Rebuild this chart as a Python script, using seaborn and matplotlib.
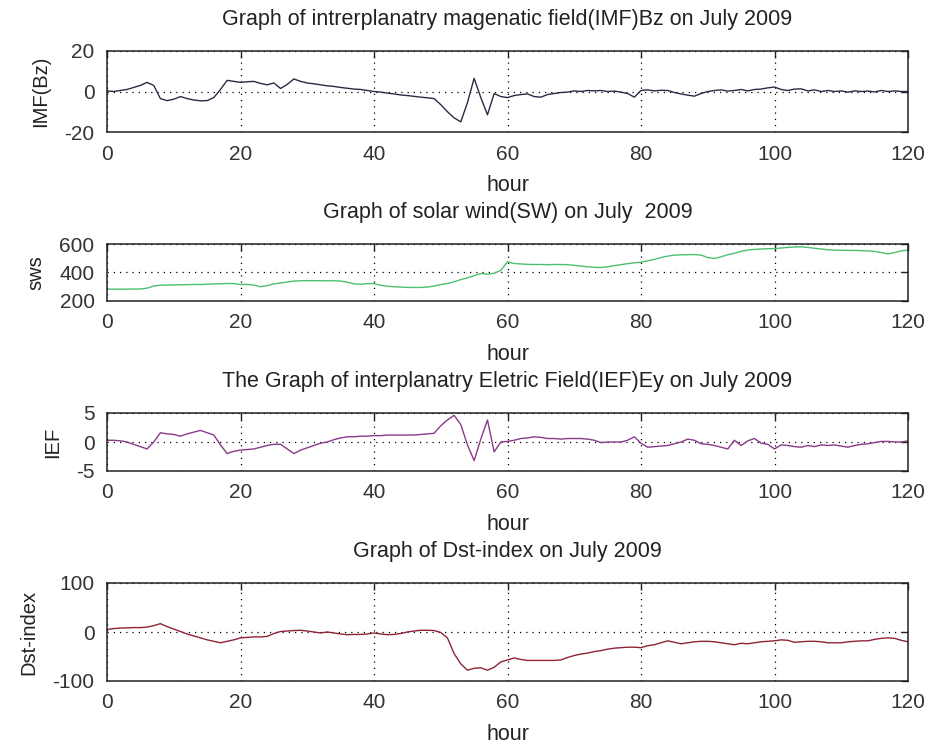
import numpy as np
import pandas as pd
import matplotlib
matplotlib.use("Agg")
import matplotlib.pyplot as plt
import seaborn as sns

hours = list(range(0, 121))

bz = [0.3, 0, 0.5, 1, 2, 3, 4.5, 3, -3.5, -4.5,
      -3.8, -2.5, -3.5, -4.2, -4.6, -4.5, -3, 1, 5.5, 5,
      4.5, 4.8, 5, 4, 3.3, 4.2, 1.5, 3.5, 6.2, 5,
      4.2, 3.8, 3.3, 2.8, 2.5, 2, 1.6, 1.2, 1, 0.5,
      0, -0.3, -0.8, -1.2, -1.7, -2, -2.4, -2.8, -3.1, -3.5,
      -6.5, -10, -13, -15, -5.5, 6.5, -3, -11.5, -1, -2.5,
      -3, -2, -1.5, -1.2, -2.5, -2.8, -1.5, -1, -0.5, -0.3,
      0.3, 0, 0.5, 0.3, 0.5, 0, 0.2, -0.3, -1, -2.8,
      0.5, 0.8, 0.3, 0.6, 0.5, -0.5, -1.2, -1.8, -2.3, -1,
      0, 0.5, 0.8, 0.2, 0.5, 1, 0.3, 1, 1.2, 1.8,
      2.2, 1, 0.5, 1.2, 1.3, 0.3, 0.8, 0, 0.5, 0,
      0.3, -0.3, 0.3, 0, 0.2, -0.2, 0.5, 0, 0.3, 0, 0]

sws = [283, 283, 283, 283, 284, 284, 290, 305, 311, 312,
       313, 314, 315, 316, 316, 318, 320, 321, 323, 322,
       316, 316, 312, 300, 308, 320, 326, 333, 340, 342,
       343, 343, 342, 342, 342, 340, 332, 320, 318, 322,
       322, 310, 304, 300, 298, 295, 295, 295, 298, 305,
       315, 323, 335, 350, 362, 378, 393, 388, 395, 415,
       475, 463, 460, 457, 456, 456, 455, 456, 456, 455,
       450, 445, 440, 436, 435, 440, 448, 455, 462, 468,
       472, 482, 492, 505, 515, 522, 524, 525, 526, 522,
       505, 498, 510, 525, 535, 548, 558, 562, 565, 567,
       568, 572, 576, 579, 580, 576, 570, 565, 560, 557,
       556, 555, 555, 553, 552, 548, 540, 530, 540, 552, 558]

ief = [0.3, 0.3, 0.2, 0, -0.4, -0.8, -1.2, 0, 1.6, 1.4,
       1.3, 1.0, 1.4, 1.7, 2.0, 1.6, 1.2, -0.5, -2.0, -1.6,
       -1.4, -1.3, -1.2, -0.9, -0.6, -0.4, -0.4, -1.2, -2.0, -1.4,
       -1.0, -0.6, -0.2, 0, 0.4, 0.7, 0.9, 0.9, 1.0, 1.0,
       1.1, 1.1, 1.2, 1.2, 1.2, 1.2, 1.2, 1.3, 1.4, 1.5,
       2.8, 3.8, 4.6, 3.0, -0.5, -3.2, 0.5, 3.8, -1.7, 0,
       0.1, 0.3, 0.6, 0.7, 0.9, 0.8, 0.6, 0.6, 0.5, 0.6,
       0.6, 0.6, 0.5, 0.3, -0.1, 0, 0, 0, 0.3, 0.9,
       -0.2, -0.9, -0.8, -0.7, -0.6, -0.3, 0, 0.5, 0.3, -0.3,
       -0.4, -0.6, -0.9, -1.2, 0.3, -0.6, 0.2, 0.6, -0.2, -0.4,
       -1.2, -0.5, -0.6, -0.8, -0.9, -0.6, -0.8, -0.5, -0.6, -0.5,
       -0.7, -0.9, -0.6, -0.4, -0.3, -0.1, 0.1, 0.1, 0, 0, 0.2]

dst = [5, 7, 8, 8.5, 9, 9, 10, 13, 17, 11,
       6, 1, -4, -8, -12, -16, -19, -22, -19, -16,
       -12, -11, -10, -10, -9, -3, 1, 2, 3, 3.5,
       2, 0, -2, 0, -2, -4, -5.5, -5, -5, -4,
       -2, -4, -5.5, -5, -3, 0, 2, 3.5, 3.5, 3,
       -1, -12, -44, -65, -78, -74, -73, -78, -72, -61,
       -57, -53, -56, -58, -58, -58, -58, -58, -57, -52,
       -48, -45, -43, -40, -38, -35, -33, -32, -31, -31,
       -32, -28, -26, -22, -18, -21, -24, -22, -20, -19,
       -19, -20, -22, -24, -26, -23, -24, -22, -20, -19,
       -18, -16, -17, -21, -20, -19, -19, -20, -22, -22,
       -22, -20, -19, -18, -18, -15, -13, -12, -13, -17, -20]

titles = ["Graph of intrerplanatry magenatic field(IMF)Bz on July 2009",
          "Graph of solar wind(SW) on July  2009",
          "The Graph of interplanatry Eletric Field(IEF)Ey on July 2009",
          "Graph of Dst-index on July 2009"]
ylabels = ["IMF(Bz)", "sws", "IEF", "Dst-index"]
yticks_list = [[-20, 0, 20], [200, 400, 600], [-5, 0, 5], [-100, 0, 100]]
xticks = [0, 20, 40, 60, 80, 100, 120]
series = [bz, sws, ief, dst]
colors = ["#2b2b45", "#4cc070", "#8a3a8a", "#8e2436"]

sns.set_style("white")
plt.rcParams['font.family'] = ['Liberation Sans', 'DejaVu Sans']

fig = plt.figure(figsize=(9.3, 7.45), dpi=100)
W, H = 930.0, 745.0
boxes = [(51, 132), (244, 301), (413, 471), (583, 681)]
left, right = 107, 908

for i, (top, bot) in enumerate(boxes):
    ax = fig.add_axes([left / W, (H - bot) / H, (right - left) / W, (bot - top) / H])
    df = pd.DataFrame({"hour": hours, "val": series[i]})
    sns.lineplot(data=df, x="hour", y="val", ax=ax, color=colors[i], linewidth=1.0)
    yt = yticks_list[i]
    ax.set_xlim(0, 120)
    ax.set_ylim(yt[0], yt[-1])
    ax.set_xticks(xticks)
    ax.set_yticks(yt)
    ax.set_xticklabels([str(v) for v in xticks], fontsize=15, color="#333333")
    ax.set_yticklabels([str(v) for v in yt], fontsize=15, color="#333333")
    ax.tick_params(axis="x", direction="in", top=True, length=5, width=1, colors="#222222", pad=9)
    ax.tick_params(axis="y", direction="in", right=True, length=5, width=1, colors="#222222", pad=9)
    for lab in ax.get_xticklabels() + ax.get_yticklabels():
        lab.set_color("#333333")
    ax.grid(True, linestyle=(0, (1, 4)), color="black", linewidth=0.9)
    for s in ax.spines.values():
        s.set_color("#222222")
        s.set_linewidth(1.1)
    ax.set_xlabel("hour", fontsize=15.5, labelpad=8, color="#222222")
    ax.set_ylabel(ylabels[i], fontsize=14.5, labelpad=10, color="#222222")
    ax.set_title(titles[i], fontsize=15.5, pad=19, color="#222222")

fig.savefig("out.png", dpi=100, facecolor="white")
